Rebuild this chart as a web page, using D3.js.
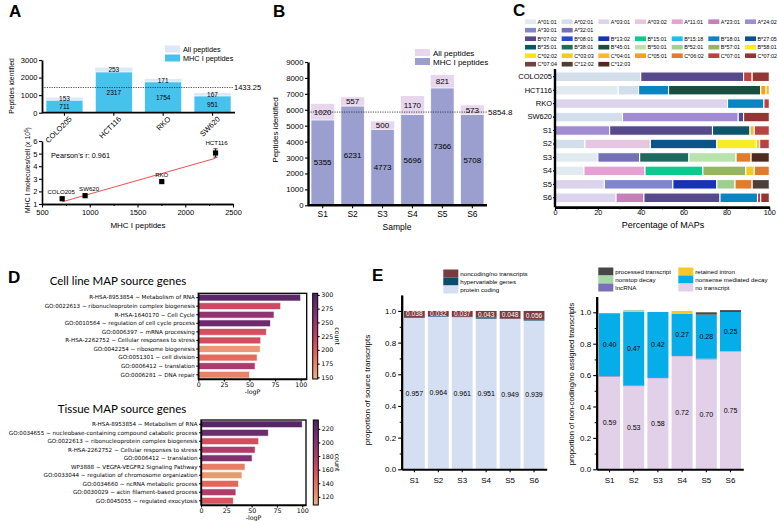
<!DOCTYPE html>
<html>
<head>
<meta charset="utf-8">
<script src="https://cdn.jsdelivr.net/npm/d3@7"></script>
<style>
  body { margin: 0; background: #fff; }
  svg { display: block; }
</style>
</head>
<body>
<div id="main"></div>
<script>
// ---------- A: peptides per cell line + scatter
const lineas = ["COLO205", "HCT116", "RKO", "SW620"];
const mhcLineas = [711, 2317, 1754, 951];
const extraLineas = [153, 253, 171, 167];
const moleculasCelula = [1.42, 5.05, 2.78, 1.66];
const errorMoleculas = [0.06, 0.33, 0.08, 0.07];
const pearsonTexto = "Pearson's r: 0.961";

// ---------- B: peptides per sample
const muestras = ["S1", "S2", "S3", "S4", "S5", "S6"];
const mhcMuestras = [5355, 6231, 4773, 5696, 7366, 5708];
const extraMuestras = [1020, 557, 500, 1170, 821, 573];

// ---------- C: HLA allele share
const filasC = ["COLO205", "HCT116", "RKO", "SW620", "S1", "S2", "S3", "S4", "S5", "S6"];
const alelosA = ["A*01:01", "A*02:01", "A*03:01", "A*03:02", "A*11:01", "A*23:01", "A*24:02", "A*30:01", "A*32:01"];
const alelosB = ["B*07:02", "B*08:01", "B*13:02", "B*15:01", "B*15:18", "B*18:01", "B*27:05",
                 "B*35:01", "B*38:01", "B*45:01", "B*50:01", "B*52:01", "B*57:01", "B*58:01"];
const alelosC = ["C*02:02", "C*03:03", "C*04:01", "C*05:01", "C*06:02", "C*07:01", "C*07:02",
                 "C*07:04", "C*12:02", "C*12:03"];
const coloresA = ["#e1eaef", "#d2deeb", "#dcd4ec", "#e6c6e0", "#e5a1d4", "#c57fb9", "#a18bd3", "#7f86cc", "#7370b3"];
const coloresB = ["#574a8c", "#2b47d8", "#1832b6", "#0fc88e", "#17bfea", "#0a85c1", "#0b5389",
                  "#0c566c", "#1c6b5e", "#1a4d3f", "#b6e3ac", "#9dcf8f", "#97b55c", "#f6ee22"];
const coloresC = ["#f7e41c", "#f2cc20", "#fcb82c", "#f6a11c", "#e07c2a", "#b84343", "#933535",
                  "#6e4242", "#4b3f38", "#4e2b1c"];
const segmentosC = [
  [["A*02:01", 40], ["B*07:02", 48], ["C*07:01", 4], ["C*07:02", 8]],
  [["A*01:01", 29.5], ["A*02:01", 9.5], ["B*18:01", 14], ["B*45:01", 43], ["C*05:01", 2.5], ["C*04:01", 1.5]],
  [["A*03:01", 80.5], ["B*18:01", 17], ["C*07:01", 2.5]],
  [["A*02:01", 31.5], ["A*24:02", 54], ["B*07:02", 2.5], ["C*07:02", 12]],
  [["A*24:02", 25.5], ["B*07:02", 48], ["B*35:01", 17.5], ["C*04:01", 2], ["C*07:01", 7]],
  [["A*02:01", 14], ["A*03:02", 30.5], ["B*27:05", 31], ["B*58:01", 18.5], ["C*03:03", 1.5], ["C*07:01", 4.5]],
  [["A*01:01", 20], ["A*32:01", 19.5], ["B*38:01", 23], ["B*50:01", 22], ["C*06:02", 7], ["C*12:03", 8.5]],
  [["A*01:01", 13.5], ["A*11:01", 28.5], ["B*15:01", 27], ["B*57:01", 20], ["C*03:03", 4], ["C*06:02", 7]],
  [["A*03:01", 23], ["A*30:01", 32], ["B*13:02", 20.5], ["B*52:01", 8.5], ["C*06:02", 8], ["C*12:02", 8]],
  [["A*03:01", 28.5], ["A*23:01", 13], ["B*07:02", 35.5], ["B*18:01", 17.5], ["C*07:01", 1.5], ["C*07:02", 4]]
];

// ---------- D: enrichment
const terminosLinea = [
  "R-HSA-8953854 ~ Metabolism of RNA",
  "GO:0022613 ~ ribonucleoprotein complex biogenesis",
  "R-HSA-1640170 ~ Cell Cycle",
  "GO:0010564 ~ regulation of cell cycle process",
  "GO:0006397 ~ mRNA processing",
  "R-HSA-2262752 ~ Cellular responses to stress",
  "GO:0042254 ~ ribosome biogenesis",
  "GO:0051301 ~ cell division",
  "GO:0006412 ~ translation",
  "GO:0006281 ~ DNA repair"
];
const logpLinea = [100, 80.5, 74, 70.5, 66.5, 61, 60.5, 57.5, 55.5, 50];
const countLinea = [292, 217, 256, 280, 210, 212, 162, 190, 240, 175];

const terminosTejido = [
  "R-HSA-8953854 ~ Metabolism of RNA",
  "GO:0034655 ~ nucleobase-containing compound catabolic process",
  "GO:0022613 ~ ribonucleoprotein complex biogenesis",
  "R-HSA-2262752 ~ Cellular responses to stress",
  "GO:0006412 ~ translation",
  "WP3888 ~ VEGFA-VEGFR2 Signaling Pathway",
  "GO:0033044 ~ regulation of chromosome organization",
  "GO:0034660 ~ ncRNA metabolic process",
  "GO:0030029 ~ actin filament-based process",
  "GO:0045055 ~ regulated exocytosis"
];
const logpTejido = [100, 66.5, 57, 53.5, 50.5, 43.5, 40.5, 37, 34.5, 32];
const countTejido = [226, 215, 160, 180, 205, 133, 120, 145, 180, 155];

// ---------- E: transcript proportions
const proteinCoding = [0.957, 0.964, 0.961, 0.951, 0.949, 0.939];
const hipervariable = [0.005, 0.004, 0.002, 0.006, 0.003, 0.005];
const noncoding = [0.038, 0.032, 0.037, 0.043, 0.048, 0.056];

const noTranscript = [0.59, 0.53, 0.58, 0.72, 0.70, 0.75];
const lncRNA = [0.004, 0.003, 0.002, 0.002, 0.005, 0.002];
const nmd = [0.40, 0.47, 0.42, 0.27, 0.28, 0.25];
const retainedIntron = [0, 0, 0, 0.017, 0, 0];
const nonstopDecay = [0, 0.012, 0, 0, 0, 0];
const processedTranscript = [0, 0, 0, 0, 0.015, 0.012];

const PRISM = "'Liberation Sans', Arial, sans-serif";
const MPL = "'DejaVu Sans', sans-serif";
const entero = d3.format("d");

const svg = d3.select("#main").append("svg")
  .attr("width", 777).attr("height", 521)
  .style("font-family", PRISM);

function estiloEje(g, size, grosor, fam) {
  g.attr("font-family", fam || null).attr("font-size", size);
  g.select(".domain").attr("stroke-width", grosor);
  g.selectAll(".tick line").attr("stroke-width", 1.1);
  g.selectAll(".tick text").attr("fill", "#000");
  return g;
}

// minor ticks only, no labels
function menores(g, eje, grosor) {
  const m = g.append("g").call(eje.tickSize(2).tickSizeOuter(0));
  m.selectAll("text").remove();
  m.select(".domain").attr("stroke-width", grosor);
  m.selectAll(".tick line").attr("stroke-width", 1);
  return m;
}

function letra(t, x, y) {
  svg.append("text").attr("x", x).attr("y", y).attr("font-size", 17).attr("font-weight", "bold").text(t);
}

function texto(g, t, x, y, size, anchor) {
  return g.append("text").attr("x", x).attr("y", y).attr("font-size", size)
    .attr("text-anchor", anchor || "start").text(t);
}

function barrasPrism(cfg) {
  const g = svg.append("g");
  const x = d3.scaleBand().domain(cfg.cats).range(cfg.xr).paddingInner(cfg.pi).paddingOuter(cfg.po);
  const y = d3.scaleLinear().domain(cfg.yd).range(cfg.yr);
  const datos = cfg.cats.map((c, i) => ({c, base: cfg.base[i], extra: cfg.extra[i]}));

  g.selectAll("rect.extra").data(datos).join("rect").attr("class", "extra")
    .attr("x", d => x(d.c)).attr("width", x.bandwidth())
    .attr("y", d => y(d.base + d.extra))
    .attr("height", d => y(d.base) - y(d.base + d.extra))
    .attr("fill", cfg.colExtra);
  g.selectAll("rect.base").data(datos).join("rect").attr("class", "base")
    .attr("x", d => x(d.c)).attr("width", x.bandwidth())
    .attr("y", d => y(d.base)).attr("height", d => y(0) - y(d.base))
    .attr("fill", cfg.colBase).attr("stroke", "#fff").attr("stroke-width", 0.7);

  g.selectAll("text.vb").data(datos).join("text").attr("class", "vb")
    .attr("x", d => x(d.c) + x.bandwidth() / 2).attr("y", d => y(d.base / 2) + cfg.fs * 0.35)
    .attr("text-anchor", "middle").attr("font-size", cfg.fs).text(d => d.base);
  g.selectAll("text.ve").data(datos).join("text").attr("class", "ve")
    .attr("x", d => x(d.c) + x.bandwidth() / 2).attr("y", d => y(d.base + d.extra / 2) + cfg.fs * 0.35)
    .attr("text-anchor", "middle").attr("font-size", cfg.fs).text(d => d.extra);

  const media = d3.mean(cfg.base);
  g.append("line").attr("x1", cfg.xr[0]).attr("x2", cfg.lineaFin)
    .attr("y1", y(media)).attr("y2", y(media))
    .attr("stroke", "#222").attr("stroke-width", 0.8).attr("stroke-dasharray", "1.2,1.2");
  texto(g, cfg.mediaTexto(media), cfg.lineaFin + 1, y(media) + 2.6, cfg.fsMedia);

  const ay = g.append("g").attr("transform", `translate(${cfg.xr[0]},0)`)
    .call(d3.axisLeft(y).tickValues(cfg.yticks).tickFormat(entero).tickSize(3).tickPadding(1.5).tickSizeOuter(0));
  estiloEje(ay, cfg.fsTick, cfg.grosor);
  const ax = g.append("g").attr("transform", `translate(0,${y(0)})`)
    .call(d3.axisBottom(x).tickSize(3).tickPadding(3).tickSizeOuter(0));
  estiloEje(ax, cfg.fsX, cfg.grosor);
  ax.select(".domain").attr("d", `M${cfg.xr[0]},0H${cfg.xr[1]}`);
  return {g, x, y, ax};
}

// ===== Panel A
function panelA() {
  letra("A", 9, 17);
  const r = barrasPrism({
    cats: lineas, base: mhcLineas, extra: extraLineas,
    xr: [42, 235], pi: 0.25, po: 0.08, yd: [0, 3000], yr: [112.7, 60],
    colBase: "#45c3ec", colExtra: "#dce8f8", fs: 6.5, fsMedia: 7.5, fsTick: 7.5, fsX: 7.5,
    yticks: [0, 1000, 2000, 3000], lineaFin: 233, grosor: 1.8,
    mediaTexto: m => m.toFixed(2)
  });
  r.ax.selectAll(".tick text")
    .attr("text-anchor", "end").attr("x", 0).attr("y", 0).attr("dy", "0.35em")
    .attr("transform", "translate(6,5) rotate(-45)");
  const g = r.g;
  g.append("text").attr("transform", "translate(14,86) rotate(-90)")
    .attr("text-anchor", "middle").attr("font-size", 6.8).text("Peptides identified");
  g.append("rect").attr("x", 165).attr("y", 45.5).attr("width", 15).attr("height", 7).attr("fill", "#dce8f8");
  g.append("rect").attr("x", 165).attr("y", 54.5).attr("width", 15).attr("height", 7).attr("fill", "#45c3ec");
  texto(g, "All peptides", 183, 51.8, 7.3);
  texto(g, "MHC I peptides", 183, 60.8, 7.3);

  // scatter
  const xs = d3.scaleLinear().domain([500, 2500]).range([42, 233]);
  const ys = d3.scaleLinear().domain([1, 6]).range([204, 141]);
  const desplaza = {COLO205: -1, SW620: 4, RKO: 0, HCT116: 1};
  const puntos = lineas.map((c, i) => ({c, x: mhcLineas[i], y: moleculasCelula[i], e: errorMoleculas[i]}));
  const mx = d3.mean(puntos, d => d.x), my = d3.mean(puntos, d => d.y);
  const pend = d3.sum(puntos, d => (d.x - mx) * (d.y - my)) / d3.sum(puntos, d => (d.x - mx) ** 2);
  const orden = d3.extent(puntos, d => d.x);
  g.append("line")
    .attr("x1", xs(orden[0])).attr("y1", ys(my + pend * (orden[0] - mx)))
    .attr("x2", xs(orden[1])).attr("y2", ys(my + pend * (orden[1] - mx)))
    .attr("stroke", "#f23b3b").attr("stroke-width", 0.9);

  const p = g.selectAll("g.pt").data(puntos).join("g").attr("class", "pt");
  p.append("line").attr("x1", d => xs(d.x)).attr("x2", d => xs(d.x))
    .attr("y1", d => ys(d.y - d.e)).attr("y2", d => ys(d.y + d.e)).attr("stroke", "#000").attr("stroke-width", 0.8);
  [1, -1].forEach(s => {
    p.append("line").attr("x1", d => xs(d.x) - 2).attr("x2", d => xs(d.x) + 2)
      .attr("y1", d => ys(d.y + s * d.e)).attr("y2", d => ys(d.y + s * d.e))
      .attr("stroke", "#000").attr("stroke-width", 0.8);
  });
  p.append("rect").attr("x", d => xs(d.x) - 2.6).attr("y", d => ys(d.y) - 2.6)
    .attr("width", 5.2).attr("height", 5.2).attr("fill", "#000");
  p.append("text").attr("x", d => xs(d.x) + desplaza[d.c]).attr("y", d => ys(d.y + d.e) - 3.5)
    .attr("text-anchor", "middle").attr("font-size", 6.1).text(d => d.c);

  const ay = g.append("g").attr("transform", "translate(42,0)")
    .call(d3.axisLeft(ys).ticks(6).tickSize(3).tickPadding(1.5).tickSizeOuter(0));
  estiloEje(ay, 7.5, 1.6);
  menores(g.append("g").attr("transform", "translate(0,204)"),
    d3.axisBottom(xs).tickValues(d3.range(750, 2500, 500)), 1.6);
  const ax = g.append("g").attr("transform", "translate(0,204)")
    .call(d3.axisBottom(xs).tickValues([500, 1000, 1500, 2000, 2500]).tickFormat(entero)
      .tickSize(3.5).tickPadding(2).tickSizeOuter(0));
  estiloEje(ax, 7.5, 1.6);
  texto(g, pearsonTexto, 51, 157.5, 7.3);
  texto(g, "MHC I peptides", 138, 228, 8, "middle");
  const yl = g.append("text").attr("transform", "translate(30,170) rotate(-90)")
    .attr("text-anchor", "middle").attr("font-size", 6.8);
  yl.append("tspan").text("MHC I molecules/cell (x 10");
  yl.append("tspan").attr("font-size", 4.8).attr("dy", -2.5).text("5");
  yl.append("tspan").attr("dy", 2.5).text(")");
}

// ===== Panel B
function panelB() {
  letra("B", 273, 17);
  const r = barrasPrism({
    cats: muestras, base: mhcMuestras, extra: extraMuestras,
    xr: [308, 487], pi: 0.22, po: 0.1, yd: [0, 9000], yr: [205.3, 62],
    colBase: "#9a9fcf", colExtra: "#e8d6ed", fs: 8, fsMedia: 8, fsTick: 7.8, fsX: 8.5,
    yticks: d3.range(0, 9001, 1000), lineaFin: 487, grosor: 2.4,
    mediaTexto: m => m.toFixed(1)
  });
  const g = r.g;
  g.append("text").attr("transform", "translate(278,130) rotate(-90)")
    .attr("text-anchor", "middle").attr("font-size", 8).text("Peptides identified");
  texto(g, "Sample", 397, 230, 8.5, "middle");
  g.append("rect").attr("x", 415).attr("y", 49).attr("width", 15).attr("height", 7).attr("fill", "#e8d6ed");
  g.append("rect").attr("x", 415).attr("y", 58).attr("width", 15).attr("height", 7).attr("fill", "#9a9fcf");
  texto(g, "All peptides", 433, 55.5, 8);
  texto(g, "MHC I peptides", 433, 64.5, 8);
}

// ===== Panel C
function panelC() {
  letra("C", 513, 16);
  const g = svg.append("g");
  const color = {};
  alelosA.forEach((a, i) => color[a] = coloresA[i]);
  alelosB.forEach((a, i) => color[a] = coloresB[i]);
  alelosC.forEach((a, i) => color[a] = coloresC[i]);

  // legend: each locus starts a new row, 7 per row
  const leyenda = [];
  let fila = 0;
  [alelosA, alelosB, alelosC].forEach(lista => {
    lista.forEach((a, i) => leyenda.push({a, col: i % 7, fila: fila + Math.floor(i / 7)}));
    fila += Math.ceil(lista.length / 7);
  });
  const lg = g.selectAll("g.ley").data(leyenda).join("g").attr("class", "ley")
    .attr("transform", d => `translate(${525 + d.col * 36.67},${21.7 + d.fila * 8.5})`);
  lg.append("rect").attr("x", 0).attr("y", -2.3).attr("width", 11).attr("height", 4.6).attr("fill", d => color[d.a]);
  lg.append("text").attr("x", 12.5).attr("y", 2).attr("font-size", 5.4).text(d => d.a);

  const x = d3.scaleLinear().domain([0, 100]).range([555, 769.3]);
  const y = d3.scaleBand().domain(filasC).range([70, 204.5]).paddingInner(0.29).paddingOuter(0.145);
  const segs = [];
  segmentosC.forEach((lista, i) => {
    let acc = 0;
    lista.forEach(([a, v]) => { segs.push({fila: filasC[i], a, ini: acc, v}); acc += v; });
  });
  g.selectAll("rect.seg").data(segs).join("rect").attr("class", "seg")
    .attr("x", d => x(d.ini)).attr("width", d => x(d.ini + d.v) - x(d.ini))
    .attr("y", d => y(d.fila)).attr("height", y.bandwidth())
    .attr("fill", d => color[d.a]).attr("stroke", "#fff").attr("stroke-width", 1.1);

  menores(g.append("g").attr("transform", "translate(0,207.3)"),
    d3.axisBottom(x).tickValues([10, 30, 50, 70, 90]), 2.4);
  const ax = g.append("g").attr("transform", "translate(0,207.3)")
    .call(d3.axisBottom(x).tickValues([0, 20, 40, 60, 80, 100]).tickSize(3).tickPadding(0).tickSizeOuter(0));
  estiloEje(ax, 7.3, 2.4);
  const ay = g.append("g").attr("transform", "translate(555,0)")
    .call(d3.axisLeft(y).tickSize(2).tickPadding(1).tickSizeOuter(0));
  estiloEje(ay, 7.5, 2.4);
  ay.select(".domain").attr("d", "M0,69V207.3");
  texto(g, "Percentage of MAPs", 663, 227.5, 9, "middle");
}

// ===== Panel D
const flare = ["#edb081", "#e98d6b", "#e3685c", "#d14a61", "#b13c6c", "#8f3371", "#6c2b6d", "#4b2362"];

function enriquecimiento(cfg) {
  const g = svg.append("g").style("font-family", MPL);
  const x = d3.scaleLinear().domain(cfg.xd).range([cfg.l, cfg.r]);
  const y = d3.scaleBand().domain(cfg.terms).range([cfg.t, cfg.b]).paddingInner(0.2).paddingOuter(0.1);
  const c = d3.scaleLinear()
    .domain(flare.map((_, i) => cfg.cd[0] + (cfg.cd[1] - cfg.cd[0]) * i / (flare.length - 1)))
    .range(flare);
  const datos = cfg.terms.map((t, i) => ({t, v: cfg.vals[i], n: cfg.counts[i]}));

  g.append("text").attr("x", cfg.titleX).attr("y", cfg.titleY).attr("text-anchor", "middle")
    .attr("font-family", "Lato, 'Open Sans', sans-serif").attr("font-size", 11.5).text(cfg.title);

  g.selectAll("rect.bar").data(datos).join("rect").attr("class", "bar")
    .attr("x", x(0)).attr("width", d => x(d.v) - x(0))
    .attr("y", d => y(d.t)).attr("height", y.bandwidth())
    .attr("fill", d => c(d.n)).attr("stroke", "#fff").attr("stroke-opacity", 0.75).attr("stroke-width", 0.9);

  const ay = g.append("g").attr("transform", `translate(${cfg.l},0)`)
    .call(d3.axisLeft(y).tickSize(2).tickPadding(1.5).tickSizeOuter(0));
  estiloEje(ay, 5.6, 1.3, MPL);
  const ax = g.append("g").attr("transform", `translate(0,${cfg.b})`)
    .call(d3.axisBottom(x).tickValues([0, 25, 50, 75, 100]).tickSize(2.5).tickPadding(1.5).tickSizeOuter(0));
  estiloEje(ax, 6.3, 1.3, MPL);
  g.append("rect").attr("x", cfg.l).attr("y", cfg.t).attr("width", cfg.r - cfg.l).attr("height", cfg.b - cfg.t)
    .attr("fill", "none").attr("stroke", "#000").attr("stroke-width", 1.3);
  texto(g, "-logP", (cfg.l + cfg.r) / 2, cfg.b + 14.5, 6.3, "middle");

  // colorbar
  const id = "grad" + cfg.id;
  const grad = svg.append("defs").append("linearGradient").attr("id", id)
    .attr("x1", 0).attr("x2", 0).attr("y1", 1).attr("y2", 0);
  flare.forEach((col, i) => grad.append("stop").attr("offset", i / (flare.length - 1)).attr("stop-color", col));
  const cy = d3.scaleLinear().domain(cfg.cd).range([cfg.b, cfg.t]);
  g.append("rect").attr("x", cfg.cbx).attr("y", cfg.t).attr("width", 5).attr("height", cfg.b - cfg.t)
    .attr("fill", `url(#${id})`).attr("stroke", "#000").attr("stroke-width", 1);
  const ac = g.append("g").attr("transform", `translate(${cfg.cbx + 5},0)`)
    .call(d3.axisRight(cy).tickValues(cfg.cticks).tickSize(2).tickPadding(1.5).tickSizeOuter(0));
  estiloEje(ac, 6.3, 0, MPL);
  ac.select(".domain").remove();
  g.append("text").attr("transform", `translate(${cfg.cbx + 22},${(cfg.t + cfg.b) / 2}) rotate(90)`)
    .attr("text-anchor", "middle").attr("font-size", 6.3).text("count");
}

function panelD() {
  letra("D", 8, 283);
  enriquecimiento({
    id: "a", title: "Cell line MAP source genes", titleX: 118, titleY: 285,
    terms: terminosLinea, vals: logpLinea, counts: countLinea,
    l: 198.3, r: 306.7, t: 293.3, b: 379, xd: [0, 105.9],
    cd: [147, 303], cticks: [150, 175, 200, 225, 250, 275, 300], cbx: 312.7
  });
  enriquecimiento({
    id: "b", title: "Tissue MAP source genes", titleX: 122, titleY: 413,
    terms: terminosTejido, vals: logpTejido, counts: countTejido,
    l: 201, r: 306, t: 420, b: 505, xd: [0, 103.7],
    cd: [108, 233], cticks: [120, 140, 160, 180, 200, 220], cbx: 313.3
  });
}

// ===== Panel E
function proporciones(cfg) {
  const g = svg.append("g");
  const x = d3.scaleBand().domain(muestras).range(cfg.xr).paddingInner(0.13).paddingOuter(0.095);
  const y = d3.scaleLinear().domain([0, 1.1]).range(cfg.yr);
  const tabla = muestras.map((m, i) => {
    const o = {muestra: m};
    cfg.series.forEach(s => o[s.clave] = s.valores[i]);
    return o;
  });
  const pila = d3.stack().keys(cfg.series.map(s => s.clave))(tabla);
  pila.forEach((capa, k) => {
    const s = cfg.series[k];
    g.selectAll(null).data(capa).join("rect")
      .attr("x", d => x(d.data.muestra)).attr("width", x.bandwidth())
      .attr("y", d => y(d[1])).attr("height", d => y(d[0]) - y(d[1]))
      .attr("fill", s.color);
    if (s.formato) {
      g.selectAll(null).data(capa).join("text")
        .attr("x", d => x(d.data.muestra) + x.bandwidth() / 2)
        .attr("y", d => y((d[0] + d[1]) / 2) + 2.5)
        .attr("text-anchor", "middle").attr("font-size", s.fs || 7).attr("fill", s.colorTexto)
        .text(d => d3.format(s.formato)(d[1] - d[0]));
    }
  });
  menores(g.append("g").attr("transform", `translate(${cfg.xr[0]},0)`),
    d3.axisLeft(y).tickValues([0.1, 0.3, 0.5, 0.7, 0.9]), 2);
  const ay = g.append("g").attr("transform", `translate(${cfg.xr[0]},0)`)
    .call(d3.axisLeft(y).tickValues([0, 0.2, 0.4, 0.6, 0.8, 1.0]).tickFormat(d3.format(".1f"))
      .tickSize(3.5).tickPadding(2).tickSizeOuter(0));
  estiloEje(ay, 8, 2);
  const ax = g.append("g").attr("transform", `translate(0,${y(0)})`)
    .call(d3.axisBottom(x).tickSize(3).tickPadding(5).tickSizeOuter(0));
  estiloEje(ax, 8, 2);
  g.append("text").attr("transform", `translate(${cfg.ylx},${cfg.yly}) rotate(-90)`)
    .attr("text-anchor", "middle").attr("font-size", cfg.ylfs).text(cfg.ylabel);

  const lg = g.selectAll("g.ley").data(cfg.leyenda).join("g")
    .attr("transform", d => `translate(${d.x},${d.y})`);
  lg.append("rect").attr("width", 15).attr("height", 8)
    .attr("fill", d => cfg.series.find(s => s.clave === d.clave).color);
  lg.append("text").attr("x", 17).attr("y", 6).attr("font-size", 6.2).text(d => d.clave);
}

function panelE() {
  letra("E", 372, 281);
  proporciones({
    xr: [401.7, 546.7], yr: [469.3, 295.1],
    series: [
      {clave: "protein coding", valores: proteinCoding, color: "#d5dff3", formato: ".3f", colorTexto: "#000"},
      {clave: "hypervariable genes", valores: hipervariable, color: "#0e4c6b"},
      {clave: "noncoding/no transcripts", valores: noncoding, color: "#7b3a3d", formato: ".3f", colorTexto: "#fff", fs: 6.6}
    ],
    leyenda: [
      {clave: "noncoding/no transcripts", x: 443.3, y: 269.5},
      {clave: "hypervariable genes", x: 443.3, y: 277.5},
      {clave: "protein coding", x: 443.3, y: 285.5}
    ],
    ylabel: "proportion of source transcripts", ylx: 370, yly: 390, ylfs: 8
  });
  proporciones({
    xr: [596.7, 743.3], yr: [469.3, 296.6],
    series: [
      {clave: "no transcript", valores: noTranscript, color: "#e2d0e8", formato: ".2f", colorTexto: "#000"},
      {clave: "lncRNA", valores: lncRNA, color: "#7a70b8"},
      {clave: "nonsense mediated decay", valores: nmd, color: "#05aee8", formato: ".2f", colorTexto: "#000"},
      {clave: "retained intron", valores: retainedIntron, color: "#f8c82a"},
      {clave: "nonstop decay", valores: nonstopDecay, color: "#a6d8a4"},
      {clave: "processed transcript", valores: processedTranscript, color: "#474747"}
    ],
    leyenda: [
      {clave: "processed transcript", x: 598.3, y: 267.5},
      {clave: "nonstop decay", x: 598.3, y: 275.5},
      {clave: "lncRNA", x: 598.3, y: 283.5},
      {clave: "retained intron", x: 678.3, y: 267.5},
      {clave: "nonsense mediated decay", x: 678.3, y: 275.5},
      {clave: "no transcript", x: 678.3, y: 283.5}
    ],
    ylabel: "proportion of non-coding/no assigned transcripts", ylx: 574, yly: 384, ylfs: 7.6
  });
}

panelA();
panelB();
panelC();
panelD();
panelE();
</script>
</body>
</html>
